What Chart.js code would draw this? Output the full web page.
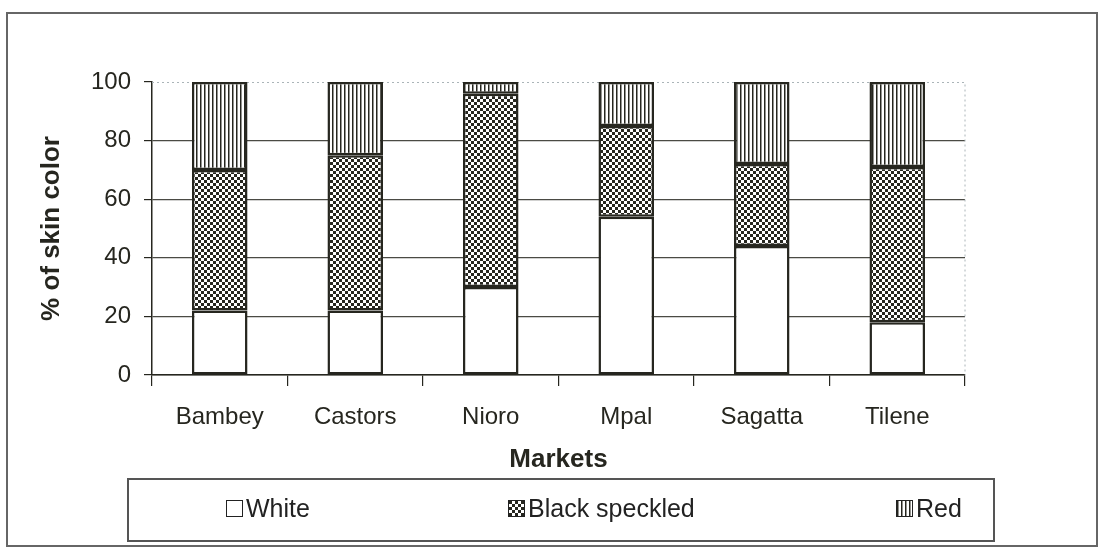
<!DOCTYPE html>
<html>
<head>
<meta charset="utf-8">
<script src="https://cdn.jsdelivr.net/npm/chart.js@4/dist/chart.umd.min.js"></script>
<style>
  html, body { margin: 0; padding: 0; background: #fff; }
  body { width: 1101px; height: 557px; position: relative; overflow: hidden; font-family: "Liberation Sans", Arial, sans-serif; }
  #frame { position: absolute; left: 6px; top: 12px; width: 1088px; height: 531px; border: 2px solid #666; }
  #wrap { position: absolute; left: 0; top: 0; width: 1101px; height: 557px; }
  #legend { position: absolute; left: 127px; top: 478px; width: 864px; height: 60px; border: 2px solid #555; color: #222; font-size: 25px; }
  .item { position: absolute; top: 14px; display: flex; align-items: center; }
  .item canvas { width: 15px; height: 15px; border: 1.5px solid #222; margin-right: 3px; }
</style>
</head>
<body>
<div id="frame"></div>
<div id="wrap"><canvas id="skinChart" width="1101" height="557"></canvas></div>
<div id="legend"></div>
<script>
// data
const markets = ["Bambey", "Castors", "Nioro", "Mpal", "Sagatta", "Tilene"];
const white = [22, 22, 30, 54, 44, 18];
const blackSpeckled = [48, 53, 66, 31, 28, 53];
const red = [30, 25, 4, 15, 28, 29];
const seriesNames = ["White", "Black speckled", "Red"];
const yTicks = [0, 20, 40, 60, 80, 100];

const ink = "#26261f";

function makeTile(kind) {
    var c = document.createElement("canvas");
    var g;
    if (kind === "checker") {
        c.width = 6; c.height = 6;
        g = c.getContext("2d");
        g.fillStyle = "#fff";
        g.fillRect(0, 0, 6, 6);
        g.fillStyle = ink;
        g.fillRect(0, 0, 3, 3);
        g.fillRect(3, 3, 3, 3);
    } else {
        c.width = 4; c.height = 4;
        g = c.getContext("2d");
        g.fillStyle = "#fff";
        g.fillRect(0, 0, 4, 4);
        g.fillStyle = ink;
        g.fillRect(0, 0, 1.5, 4);
    }
    return c;
}

var ctx = document.getElementById("skinChart").getContext("2d");
var fills = [
    "#ffffff",
    ctx.createPattern(makeTile("checker"), "repeat"),
    ctx.createPattern(makeTile("stripes"), "repeat"),
];
var tileKinds = ["plain", "checker", "stripes"];

// light dotted top line and right edge of the plot area
const plotFrame = {
    id: "plotFrame",
    beforeDatasetsDraw(chart) {
        var a = chart.chartArea;
        var c = chart.ctx;
        c.save();
        c.strokeStyle = "#aab4b8";
        c.lineWidth = 1;
        c.setLineDash([2, 3]);
        c.beginPath();
        c.moveTo(a.left, a.top + 0.5);
        c.lineTo(a.right, a.top + 0.5);
        c.lineTo(a.right, a.bottom);
        c.stroke();
        c.restore();
    },
};

var datasets = [white, blackSpeckled, red].map(function (vals, i) {
    return {
        label: seriesNames[i],
        data: vals,
        backgroundColor: fills[i],
        borderColor: ink,
        borderWidth: 2.5,
        borderSkipped: false,
        barPercentage: 0.41,
        categoryPercentage: 1,
    };
});

var tickFont = { family: "Liberation Sans", size: 24 };
var titleFont = { family: "Liberation Sans", size: 26, weight: "bold" };

new Chart(ctx, {
    type: "bar",
    data: { labels: markets, datasets: datasets },
    plugins: [plotFrame],
    options: {
        responsive: false,
        animation: false,
        layout: { padding: { left: 0, right: 136, top: 82, bottom: 72 } },
        plugins: { legend: { display: false }, tooltip: { enabled: false } },
        scales: {
            x: {
                stacked: true,
                afterFit: function (axis) { axis.height = 110; },
                grid: { display: true, drawOnChartArea: false, offset: true, color: ink, tickLength: 11, lineWidth: 1.2 },
                border: { color: ink, width: 1.5 },
                ticks: { color: ink, font: tickFont, padding: 17 },
                title: { display: true, text: "Markets", color: ink, font: titleFont, padding: { top: 0, bottom: 10 } },
            },
            y: {
                stacked: true,
                min: 0,
                max: 100,
                afterFit: function (axis) { axis.width = 152; },
                afterBuildTicks: function (axis) {
                    axis.ticks = yTicks.map(function (v) { return { value: v }; });
                },
                grid: {
                    color: function (c) { return c.tick && c.tick.value === 100 ? "rgba(0,0,0,0)" : "#4a4a44"; },
                    tickColor: ink,
                    tickLength: 8,
                    lineWidth: 1.2,
                },
                border: { color: ink, width: 1.5 },
                ticks: { color: ink, font: tickFont, padding: 13 },
                title: { display: true, text: "% of skin color", color: ink, font: titleFont, padding: { top: 36, bottom: 0 } },
            },
        },
    },
});

// legend box below the chart
var legend = document.getElementById("legend");
var itemLeft = [97, 379, 767];
seriesNames.forEach(function (name, i) {
    var item = document.createElement("div");
    item.className = "item";
    item.style.left = itemLeft[i] + "px";
    var sw = document.createElement("canvas");
    sw.width = 15; sw.height = 15;
    var g = sw.getContext("2d");
    g.fillStyle = "#fff";
    g.fillRect(0, 0, 15, 15);
    if (tileKinds[i] !== "plain") {
        g.fillStyle = g.createPattern(makeTile(tileKinds[i]), "repeat");
        g.fillRect(0, 0, 15, 15);
    }
    item.appendChild(sw);
    var txt = document.createElement("span");
    txt.textContent = name;
    item.appendChild(txt);
    legend.appendChild(item);
});
</script>
</body>
</html>
